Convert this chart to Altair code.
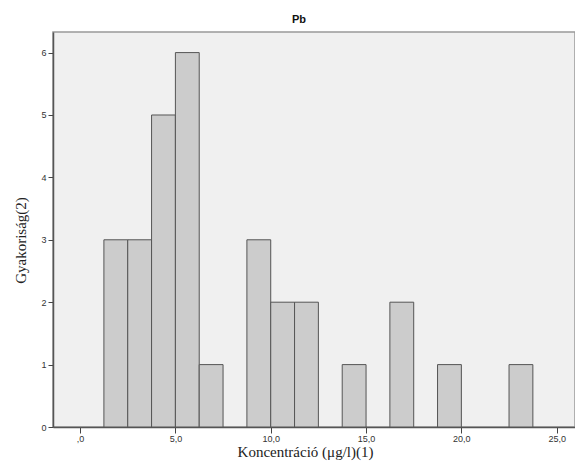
import altair as alt
import pandas as pd

bin_width = 1.25
bin_start = [1.25, 2.5, 3.75, 5.0, 6.25, 8.75, 10.0, 11.25, 13.75, 16.25, 18.75, 22.5]
counts = [3, 3, 5, 6, 1, 3, 2, 2, 1, 2, 1, 1]
x_ticks = [0, 5, 10, 15, 20, 25]
y_ticks = [0, 1, 2, 3, 4, 5, 6]

df = pd.DataFrame({
    "start": bin_start,
    "end": [s + bin_width for s in bin_start],
    "count": counts,
})

chart = alt.Chart(df).mark_rect(
    fill="#cccccc", stroke="#555555", strokeWidth=1
).encode(
    x=alt.X("start:Q",
            scale=alt.Scale(domain=[-1.42, 25.96], nice=False, zero=False),
            axis=alt.Axis(values=x_ticks, title="Koncentráció (μg/l)(1)",
                          labelExpr="datum.value == 0 ? ',0' : replace(format(datum.value, '.1f'), '.', ',')",
                          tickSize=6, labelPadding=1, titlePadding=1,
                          titleX=252)),
    x2="end:Q",
    y=alt.Y("count:Q",
            scale=alt.Scale(domain=[0, 6.33], nice=False),
            axis=alt.Axis(values=y_ticks, title="Gyakoriság(2)", format="d",
                          tickSize=5, labelPadding=2, titlePadding=12,
                          titleY=208)),
    y2=alt.datum(0),
).properties(
    width=522,
    height=395,
    autosize=alt.AutoSizeParams(type="none"),
    padding={"left": 45, "top": 24, "right": 0, "bottom": 37},
    title=alt.Title("Pb", font="Liberation Sans", fontSize=11, fontWeight="bold",
                    color="#111111", anchor="middle", dx=-15, offset=7),
).configure_view(
    fill="#f0f0f0", stroke="#999999", strokeWidth=1.5
).configure_axis(
    grid=False,
    domainColor="#555555",
    domainWidth=1.5,
    tickColor="#444444",
    labelFont="Liberation Sans",
    labelFontSize=9,
    labelColor="#333333",
    titleFont="Liberation Serif",
    titleFontSize=15,
    titleFontWeight="normal",
    titleColor="#222222",
)

chart.save("out.html", embed_options={"renderer": "svg", "actions": False})
